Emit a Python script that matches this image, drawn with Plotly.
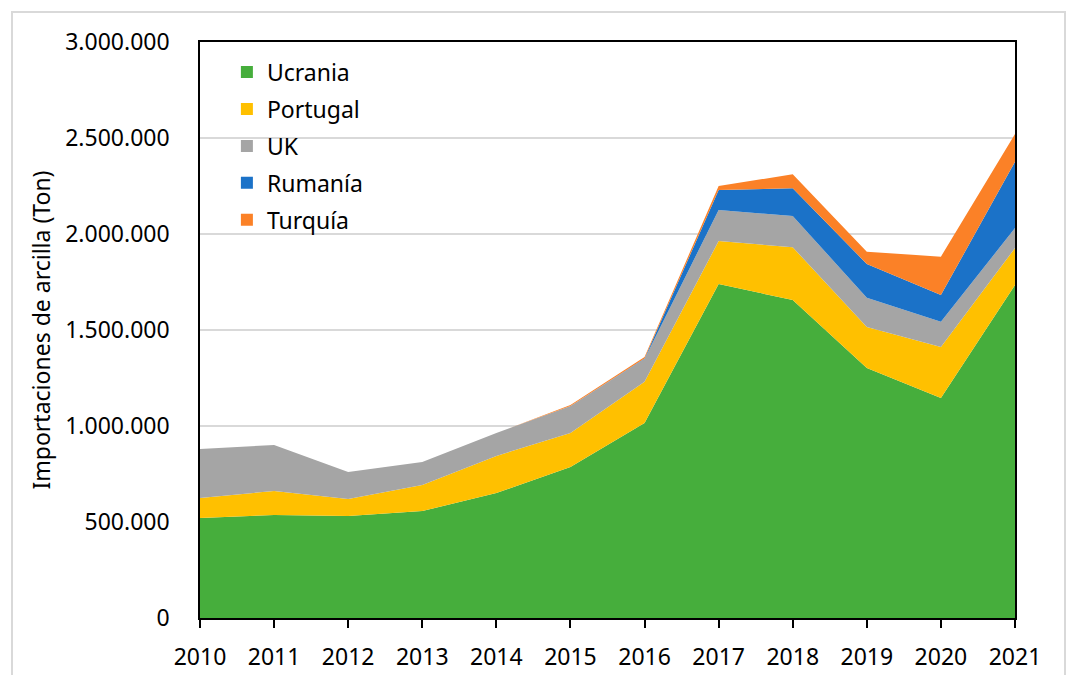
import plotly.graph_objects as go

years = [2010, 2011, 2012, 2013, 2014, 2015, 2016, 2017, 2018, 2019, 2020, 2021]
ucrania = [521000, 536000, 531000, 557000, 651000, 786000, 1015000, 1739000, 1656000, 1302000, 1146000, 1734000]
portugal = [104000, 126000, 89000, 136000, 193000, 177000, 216000, 224000, 275000, 214000, 265000, 193000]
uk = [255000, 239000, 140000, 119000, 119000, 141000, 118000, 162000, 163000, 152000, 132000, 104000]
rumania = [0, 0, 0, 0, 0, 0, 3000, 104000, 144000, 176000, 139000, 345000]
turquia = [0, 0, 0, 0, 0, 5000, 8000, 21000, 73000, 64000, 200000, 145000]

series = [
    ("Ucrania", ucrania, "#46AE3C"),
    ("Portugal", portugal, "#FFC000"),
    ("UK", uk, "#A5A5A5"),
    ("Rumanía", rumania, "#1B72C8"),
    ("Turquía", turquia, "#FB8127"),
]

FONT = "Noto Sans"

fig = go.Figure()
for name, vals, col in series:
    fig.add_trace(go.Scatter(
        x=years, y=vals, name=name, stackgroup="one", mode="lines",
        line=dict(width=0, color=col), fillcolor=col, showlegend=False,
        hoverinfo="x+y+name"))
for i, (name, vals, col) in enumerate(series):
    fig.add_trace(go.Scatter(
        x=[None], y=[None], name=name, mode="markers",
        marker=dict(symbol="square", size=15, color=col),
        legendgroup=f"g{i}", showlegend=True))

fig.update_layout(
    width=1080, height=675,
    margin=dict(l=200, r=65, t=42, b=57),
    paper_bgcolor="white", plot_bgcolor="white",
    separators=",.",
    font=dict(family=FONT, size=23, color="black"),
    legend=dict(x=0.033, y=0.985, xanchor="left", yanchor="top",
                bgcolor="rgba(0,0,0,0)", traceorder="grouped",
                tracegroupgap=4, itemsizing="constant",
                font=dict(family=FONT, size=23, color="black")),
    xaxis=dict(range=[2010, 2021], tickvals=years, ticks="outside", ticklen=8,
               tickcolor="black", tickwidth=1.5, showgrid=False,
               showline=True, linecolor="black", linewidth=1.5, mirror=True,
               ticklabelstandoff=10, zeroline=False, automargin=False,
               tickfont=dict(family=FONT, size=23)),
    yaxis=dict(range=[0, 3000000], dtick=500000, tickformat=",d",
               showgrid=True, gridcolor="#D9D9D9", gridwidth=1.5,
               showline=True, linecolor="black", linewidth=1.5, mirror=True,
               ticks="", ticklabelstandoff=24, zeroline=False, automargin=False,
               tickfont=dict(family=FONT, size=23),
               title=dict(text="Importaciones de arcilla (Ton)", standoff=8,
                          font=dict(family=FONT, size=23))),
    shapes=[dict(type="rect", xref="paper", yref="paper",
                 x0=(12 - 200) / 815, x1=(1065 - 200) / 815,
                 y0=(618 - 700) / 576, y1=(618 - 12) / 576,
                 line=dict(color="#D9D9D9", width=2), fillcolor="rgba(0,0,0,0)",
                 layer="below")],
)

fig.write_html("out.html")
